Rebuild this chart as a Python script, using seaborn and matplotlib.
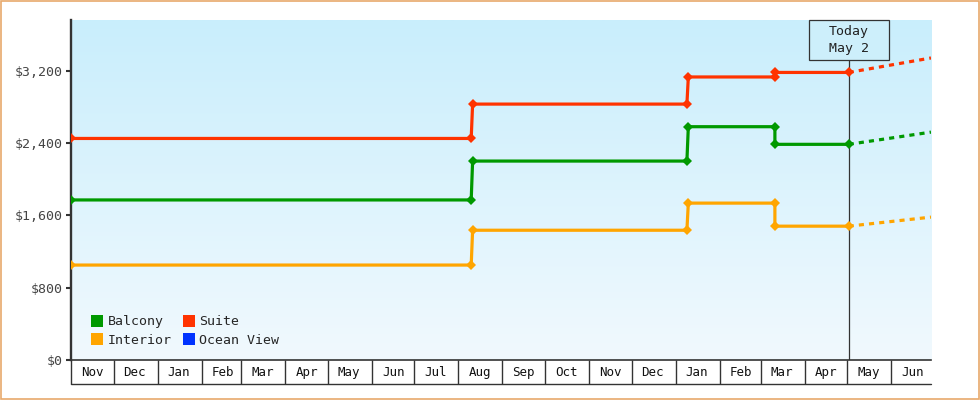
import pandas as pd
import seaborn as sns
import matplotlib.pyplot as plt
import matplotlib.dates as mdates
import matplotlib.transforms as mtransforms
import numpy as np
from matplotlib.lines import Line2D
from matplotlib.patches import Rectangle
from matplotlib.colors import LinearSegmentedColormap
from matplotlib.ticker import FuncFormatter, NullFormatter

# price history (step changes drawn as two close points)
dates = ["2022-11-01", "2023-08-10", "2023-08-11", "2024-01-09",
         "2024-01-10", "2024-03-11", "2024-03-11", "2024-05-02"]
balcony = [1770, 1770, 2200, 2200, 2580, 2580, 2385, 2385]
suite = [2450, 2450, 2830, 2830, 3130, 3130, 3180, 3180]
interior = [1050, 1050, 1435, 1435, 1735, 1735, 1480, 1480]

# projection after today
proj_dates = ["2024-05-02", "2024-06-29"]
balcony_proj = [2385, 2520]
suite_proj = [3180, 3340]
interior_proj = [1480, 1580]

today = "2024-05-02"
x_start, x_end = "2022-11-01", "2024-06-29"
y_max = 3760
y_ticks = [0, 800, 1600, 2400, 3200]

cabins = ["Balcony", "Interior", "Suite", "Ocean View"]
colors = {"Balcony": "#009900", "Suite": "#ff3300",
          "Interior": "#ffa500", "Ocean View": "#0033ff"}

sns.set_theme(style="white")
plt.rcParams["font.family"] = ["DejaVu Sans Mono", "DejaVu Sans"]

hist = pd.DataFrame({
    "date": pd.to_datetime(dates * 3),
    "price": balcony + suite + interior,
    "cabin": ["Balcony"] * len(dates) + ["Suite"] * len(dates) + ["Interior"] * len(dates),
})
proj = pd.DataFrame({
    "date": pd.to_datetime(proj_dates * 3),
    "price": balcony_proj + suite_proj + interior_proj,
    "cabin": ["Balcony"] * 2 + ["Suite"] * 2 + ["Interior"] * 2,
})

fig = plt.figure(figsize=(9.8, 4), dpi=100)
ax = fig.add_axes([71 / 980, 40 / 400, 860 / 980, 340 / 400])

# gradient background
grad = np.linspace(0, 1, 256).reshape(-1, 1)
bg = LinearSegmentedColormap.from_list("bg", ["#f1f9fe", "#c9eefc"])
ax.imshow(grad, extent=[0, 1, 0, 1], transform=ax.transAxes, origin="lower",
          cmap=bg, aspect="auto", zorder=0)

sns.lineplot(data=hist, x="date", y="price", hue="cabin", palette=colors,
             estimator=None, sort=False, marker="D", markersize=5.5,
             markeredgewidth=0, linewidth=2.3, legend=False, ax=ax, zorder=3)
sns.lineplot(data=proj, x="date", y="price", hue="cabin", palette=colors,
             estimator=None, sort=False, linewidth=2.3, linestyle=(0, (1.6, 1.6)),
             legend=False, ax=ax, zorder=3)

ax.set_xlim(pd.Timestamp(x_start), pd.Timestamp(x_end))
ax.set_ylim(0, y_max)
ax.set_xlabel("")
ax.set_ylabel("")

# y axis
ax.set_yticks(y_ticks)
ax.yaxis.set_major_formatter(FuncFormatter(lambda v, p: f"${v:,.0f}"))
ax.tick_params(axis="y", left=True, length=3.6, width=1.5, color="#333333",
               labelsize=9.5, labelcolor="#444444", pad=2)

# x axis: month boxes
ax.xaxis.set_major_locator(mdates.MonthLocator())
ax.xaxis.set_major_formatter(NullFormatter())
ax.xaxis.set_minor_locator(mdates.MonthLocator(bymonthday=16))
ax.xaxis.set_minor_formatter(mdates.DateFormatter("%b"))
ax.tick_params(axis="x", which="major", bottom=True, direction="out",
               length=17.3, width=1, color="#333333")
ax.tick_params(axis="x", which="minor", bottom=True, length=0, pad=4,
               labelsize=9, labelcolor="#111111")
ax.plot([0, 1], [-24 / 340, -24 / 340], transform=ax.transAxes, color="#333333",
        linewidth=1, clip_on=False)

for s in ["top", "right"]:
    ax.spines[s].set_visible(False)
ax.spines["left"].set_linewidth(1.7)
ax.spines["left"].set_color("#333333")
ax.spines["bottom"].set_linewidth(1.2)
ax.spines["bottom"].set_color("#333333")

# today marker
t = mdates.date2num(pd.Timestamp(today))
box_h = 40 / 340
ax.axvline(pd.Timestamp(today), ymin=0, ymax=1 - box_h, color="#333333",
           linewidth=0.9, zorder=2)
blend = mtransforms.blended_transform_factory(ax.transData, ax.transAxes)
half_w = 40 / 860 * (mdates.date2num(pd.Timestamp(x_end)) - mdates.date2num(pd.Timestamp(x_start)))
ax.add_patch(Rectangle((t - half_w, 1 - box_h), 2 * half_w, box_h, transform=blend,
                       facecolor="#cdeffb", edgecolor="#333333", linewidth=0.9,
                       zorder=4, clip_on=False))
ax.text(t, 1 - box_h / 2, "Today\nMay 2", transform=blend, ha="center", va="center",
        fontsize=9.5, color="#222222", linespacing=1.35, zorder=5)

# legend
handles = [Line2D([], [], marker="s", linestyle="none", markersize=8,
                  markeredgewidth=0, color=colors[c]) for c in cabins]
ax.legend(handles, cabins, ncol=2, loc="lower left", bbox_to_anchor=(0.024, 0.038),
          frameon=False, fontsize=9.5, handlelength=0.8, handletextpad=0.4,
          columnspacing=0.9, labelspacing=0.45, borderpad=0, borderaxespad=0)

# outer border
fig.patches.append(Rectangle((0.001, 0.002), 0.998, 0.996, transform=fig.transFigure,
                             fill=False, edgecolor="#e8a96c", linewidth=1.2))

fig.savefig("out.png", dpi=100)
